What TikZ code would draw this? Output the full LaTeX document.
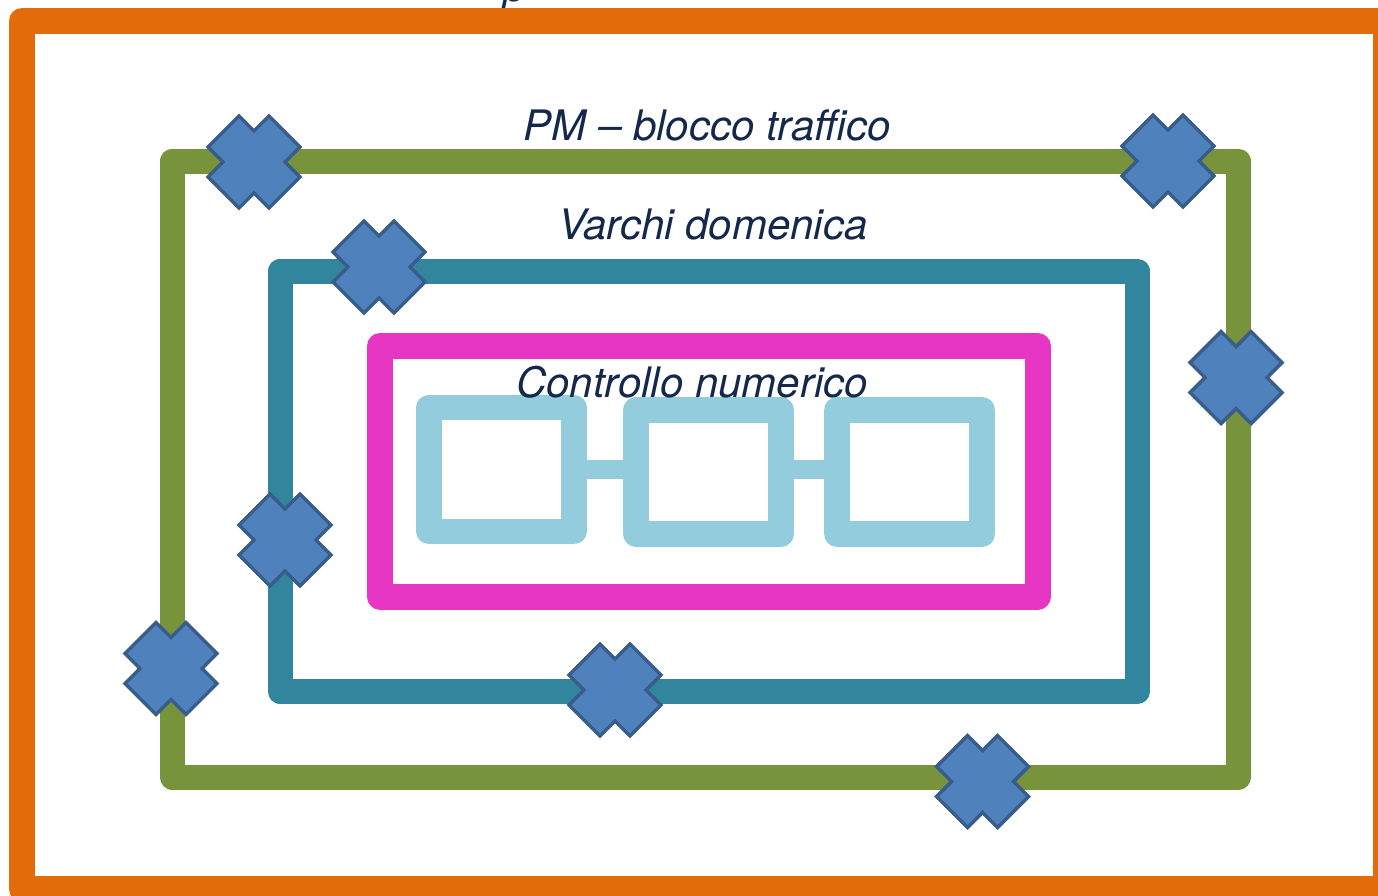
\documentclass[tikz,border=0pt]{standalone}
\usepackage{fontspec}
\setmainfont{TeX Gyre Heros}

\definecolor{zoneorange}{HTML}{E36C0A}
\definecolor{zonegreen}{HTML}{77933C}
\definecolor{zoneteal}{HTML}{31859C}
\definecolor{zonepink}{HTML}{E636C3}
\definecolor{unitblue}{HTML}{93CDDD}
\definecolor{xfill}{HTML}{4F81BD}
\definecolor{xline}{HTML}{385D8A}
\definecolor{navy}{HTML}{14284B}

\tikzset{
  zone/.style={line width=25pt, line join=round},
  unit/.style={draw=unitblue, line width=25.5pt, line join=round,
    minimum width=145pt, minimum height=124pt, inner sep=0pt, outer sep=0pt},
  link/.style={draw=unitblue, line width=18.5pt},
  gate/.style={fill=xfill, draw=xline, line width=3.5pt, line join=miter},
  lbl/.style={text=navy, font=\fontsize{42}{48}\selectfont\itshape,
    anchor=base, inner sep=0pt}
}

\begin{document}
\begin{tikzpicture}[x=1pt, y=-1pt]
  \useasboundingbox (0,0) rectangle (1378,895);
  \clip (0,0) rectangle (1378,895);

  % title above the frame, only its descender shows
  \node[lbl, anchor=base west] (title) at (503,1) {p};

  % nested zones
  \draw[zone, line width=26pt, zoneorange] (22,21) rectangle (1386,889);
  \draw[zone, zonegreen] (172,161) rectangle (1238.5,777);
  \draw[zone, zoneteal] (280,271) rectangle (1137.5,691.5);
  \draw[zone, line width=26pt, zonepink] (380,346) rectangle (1037.5,596.5);

  % units
  \node[unit] (u1) at (501.5,469.5) {};
  \node[unit] (u2) at (708.5,472) {};
  \node[unit] (u3) at (909.5,472) {};
  \draw[link] (u1.east) -- (u2.west |- u1.east);
  \draw[link] (u2.east |- u1.east) -- (u3.west |- u1.east);

  \node[lbl] (pm) at (707,140) {PM – blocco traffico};
  \node[lbl] (varchi) at (713,239) {Varchi domenica};
  \node[lbl] (ctrl) at (692,397) {Controllo numerico};

  % gates
  \coordinate (X1) at (254,162);
  \coordinate (X2) at (1168,161);
  \coordinate (X3) at (379,267);
  \coordinate (X4) at (1236,377.5);
  \coordinate (X5) at (285,540);
  \coordinate (X6) at (171,668.5);
  \coordinate (X7) at (615,690);
  \coordinate (X8) at (982.5,781.5);

  \foreach \p in {X1,X2,X3,X4,X5,X6,X7,X8} {
    \begin{scope}[shift={(\p)}]
      \draw[gate] (0,-31) -- (15,-46) -- (46,-15) -- (31,0) -- (46,15)
        -- (15,46) -- (0,31) -- (-15,46) -- (-46,15) -- (-31,0)
        -- (-46,-15) -- (-15,-46) -- cycle;
    \end{scope}
  }
\end{tikzpicture}
\end{document}
